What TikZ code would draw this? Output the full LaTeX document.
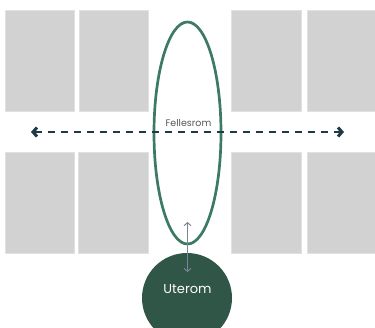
\documentclass[tikz,border=0pt]{standalone}
\usepackage{fontspec}
\setmainfont{Poppins}
\usetikzlibrary{arrows.meta,shapes.geometric}
\definecolor{roomgray}{HTML}{D3D2D3}
\definecolor{roomedge}{HTML}{E2E1E2}
\definecolor{hallgreen}{HTML}{3C7A62}
\definecolor{outgreen}{HTML}{2F5646}
\definecolor{pathnavy}{HTML}{1E3A46}
\definecolor{linkgray}{HTML}{7B8399}
\definecolor{textgray}{HTML}{555555}
\tikzset{
  roombox/.style={fill=roomgray,draw=roomedge,line width=0.8pt},
  hall/.style={ellipse,draw=hallgreen,line width=2.7pt,minimum width=67pt,minimum height=222pt,inner sep=0pt},
  outroom/.style={circle,fill=outgreen,minimum size=90pt,inner sep=0pt},
  pathline/.style={draw=pathnavy,line width=2.8pt,dash pattern=on 7pt off 6pt,{Straight Barb[length=4pt,width=9pt,line width=3pt]}-{Straight Barb[length=4pt,width=9pt,line width=3pt]}},
  linkline/.style={draw=linkgray,line width=1pt,{Straight Barb[length=3pt,width=7pt]}-{Straight Barb[length=3pt,width=7pt]}}
}
\begin{document}
\begin{tikzpicture}[x=1pt,y=-1pt]
\useasboundingbox (0,0) rectangle (375,327);
% rooms
\path[roombox] (5,10) rectangle (74,111);
\path[roombox] (79,10) rectangle (148,111);
\path[roombox] (231,10) rectangle (301,111);
\path[roombox] (307,10) rectangle (376,111);
\path[roombox] (5,152) rectangle (74,253);
\path[roombox] (78,152) rectangle (148,253);
\path[roombox] (231,152) rectangle (301,253);
\path[roombox] (307,152) rectangle (376,253);
% hall and outdoor room
\node[hall] (hall) at (187.5,133) {};
\node[outroom] (ute) at (187,298) {};
\node[text=white,font=\fontsize{13pt}{16pt}\selectfont] (utelabel) at (187.5,289) {Uterom};
\node[text=textgray,font=\fontsize{9.5pt}{12pt}\selectfont] (hallabel) at (188.5,123.5) {Fellesrom};
% dashed path
\coordinate (pl) at (31,132);
\coordinate (pr) at (344,132);
\draw[pathline] (pl) -- (pr);
% link
\coordinate (la) at (187.5,222);
\coordinate (lb) at (187.5,272);
\draw[linkline] (la) -- (lb);
\end{tikzpicture}
\end{document}
